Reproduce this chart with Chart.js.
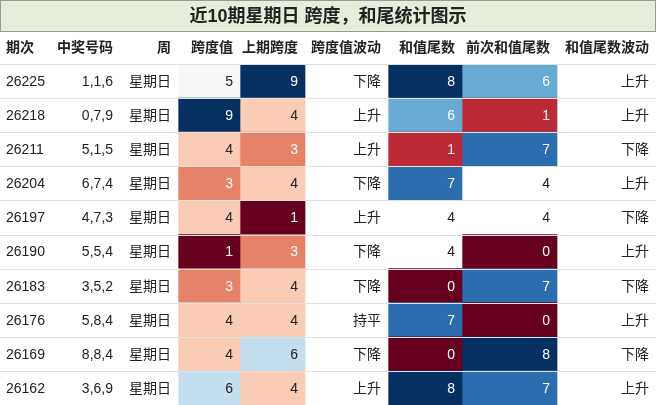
<!DOCTYPE html>
<html><head><meta charset="utf-8">
<script src="https://cdn.jsdelivr.net/npm/chart.js@4/dist/chart.umd.min.js"></script>
<style>body{margin:0;background:#fff}#wrap{width:656px;height:405px}</style>
</head><body><div id="wrap"><canvas id="chart"></canvas></div>
<script>
const title = "近10期星期日 跨度，和尾统计图示";
const headers = ["期次", "中奖号码", "周", "跨度值", "上期跨度", "跨度值波动", "和值尾数", "前次和值尾数", "和值尾数波动"];
const issues = ["26225", "26218", "26211", "26204", "26197", "26190", "26183", "26176", "26169", "26162"];
const numbers = ["1,1,6", "0,7,9", "5,1,5", "6,7,4", "4,7,3", "5,5,4", "3,5,2", "5,8,4", "8,8,4", "3,6,9"];
const weekday = Array(10).fill("星期日");
const span = [5, 9, 4, 3, 4, 1, 3, 4, 4, 6];
const prevSpan = [9, 4, 3, 4, 1, 3, 4, 4, 6, 4];
const spanMove = ["下降", "上升", "上升", "下降", "上升", "下降", "下降", "持平", "下降", "上升"];
const tail = [8, 6, 1, 7, 4, 4, 0, 7, 0, 8];
const prevTail = [6, 1, 7, 4, 4, 0, 7, 0, 8, 7];
const tailMove = ["上升", "上升", "下降", "上升", "下降", "上升", "下降", "上升", "下降", "上升"];

// column widths in px-units
const colWidths = [55, 65, 58, 62, 65, 83, 74, 95, 99];
const edges = [0];
colWidths.forEach(w => edges.push(edges[edges.length - 1] + w));

const spanColors = {1: "#67001f", 3: "#e58267", 4: "#fbccb4", 5: "#f7f7f7", 6: "#c3deec", 9: "#053061"};
const tailColors = {0: "#67001f", 1: "#bb2a35", 4: "#ffffff", 6: "#67aad3", 7: "#2c6daf", 8: "#053061"};
const spanDark = [1, 3, 9];
const tailDark = [0, 1, 6, 7, 8];

const columns = [
    {text: issues, align: "left"},
    {text: numbers, align: "right"},
    {text: weekday, align: "right"},
    {text: span, color: v => spanColors[v], dark: v => spanDark.includes(v), align: "right"},
    {text: prevSpan, color: v => spanColors[v], dark: v => spanDark.includes(v), align: "right"},
    {text: spanMove, align: "right"},
    {text: tail, color: v => tailColors[v], dark: v => tailDark.includes(v), align: "right"},
    {text: prevTail, color: v => tailColors[v], dark: v => tailDark.includes(v), align: "right"},
    {text: tailMove, align: "right"}
];

const datasets = columns.map((c, i) => ({
    data: issues.map(() => [edges[i], edges[i + 1]]),
    backgroundColor: c.text.map(v => c.color ? c.color(v) : "#ffffff"),
    borderWidth: 0,
    grouped: false,
    barPercentage: 1,
    categoryPercentage: 1
}));

const FONT = "'Liberation Sans', 'Noto Sans CJK SC', sans-serif";

const tablePlugin = {
    id: "table",
    afterDatasetsDraw(chart) {
        const ctx = chart.ctx;
        const xs = chart.scales.x, ys = chart.scales.y;
        const left = xs.getPixelForValue(0), right = xs.getPixelForValue(edges[edges.length - 1]);
        const rowH = ys.getPixelForValue(1) - ys.getPixelForValue(0);
        const top = ys.getPixelForValue(0) - rowH / 2;
        ctx.save();
        // row lines
        ctx.strokeStyle = "#e0e0e0";
        ctx.lineWidth = 1;
        for (let r = 0; r <= issues.length; r++) {
            const y = Math.round(top + r * rowH) + 0.5;
            ctx.beginPath(); ctx.moveTo(left, y); ctx.lineTo(right, y); ctx.stroke();
        }
        // title
        ctx.fillStyle = "#e5eedb";
        ctx.fillRect(0, 0, right, 32);
        ctx.strokeStyle = "#999";
        ctx.strokeRect(0.5, 0.5, right - 1, 31);
        ctx.fillStyle = "#222";
        ctx.font = "bold 18px " + FONT;
        ctx.textAlign = "center"; ctx.textBaseline = "middle";
        ctx.fillText(title, right / 2, 17);
        // header
        ctx.font = "bold 14px " + FONT;
        headers.forEach((h, i) => {
            const x0 = xs.getPixelForValue(edges[i]), x1 = xs.getPixelForValue(edges[i + 1]);
            ctx.textAlign = i === 0 ? "left" : "right";
            ctx.fillText(h, i === 0 ? x0 + 6 : x1 - 7, top - 16);
        });
        // cells
        ctx.font = "14px " + FONT;
        chart.data.datasets.forEach((ds, i) => {
            const col = columns[i];
            chart.getDatasetMeta(i).data.forEach((el, r) => {
                const v = col.text[r];
                ctx.fillStyle = col.dark && col.dark(v) ? "#ffffff" : "#222";
                const x0 = Math.min(el.x, el.base), x1 = Math.max(el.x, el.base);
                ctx.textAlign = col.align;
                ctx.fillText(String(v), col.align === "left" ? x0 + 6 : x1 - 7, el.y + 1);
            });
        });
        ctx.restore();
    }
};

new Chart(document.getElementById("chart"), {
    type: "bar",
    data: {labels: issues, datasets},
    options: {
        indexAxis: "y",
        responsive: true,
        maintainAspectRatio: false,
        animation: false,
        layout: {padding: {top: 64, left: 0, right: 0, bottom: 0}},
        plugins: {legend: {display: false}, tooltip: {enabled: false}},
        scales: {
            x: {type: "linear", min: 0, max: edges[edges.length - 1], display: false},
            y: {type: "category", display: false, offset: true}
        }
    },
    plugins: [tablePlugin]
});
</script>
</body></html>
